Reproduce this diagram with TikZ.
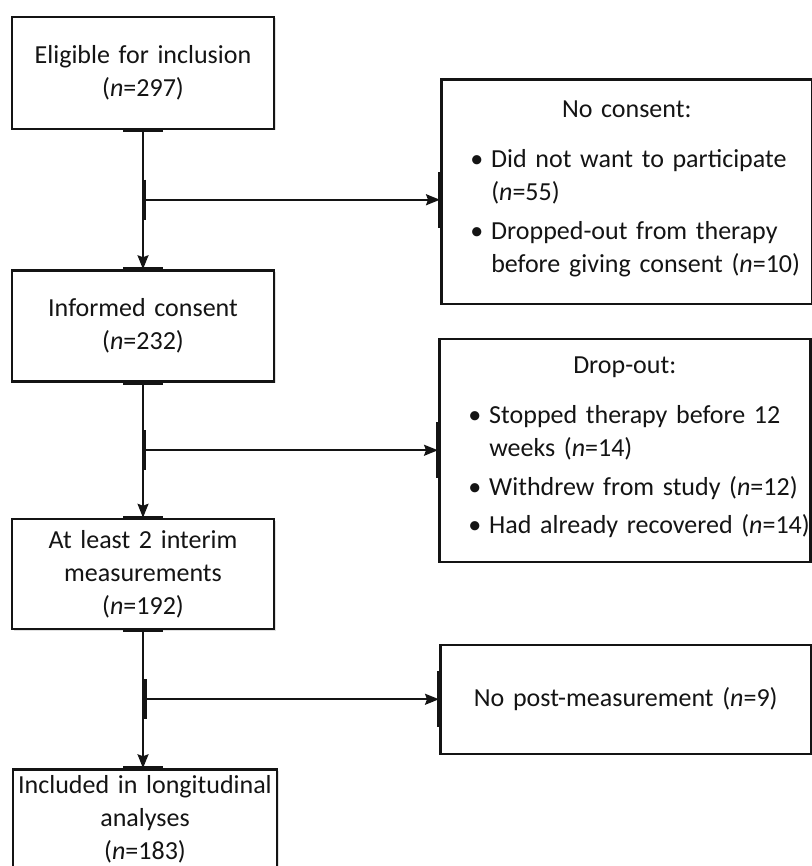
\documentclass[tikz,border=0pt]{standalone}
\usepackage{fontspec}
\setmainfont{Carlito}
\usetikzlibrary{arrows.meta,positioning,calc,shadows}
\definecolor{fcInk}{HTML}{141414}
\definecolor{fcShadow}{HTML}{9A9A9A}
\newcommand{\exclhead}[1]{{\centering #1\par}\vspace{12pt}}
\newcommand{\exclitem}[1]{\par\vspace{5pt}\noindent
  \makebox[22pt][l]{\hspace{1pt}\textbullet}\begin{tabular}[t]{@{}l@{}}#1\end{tabular}\par}
\tikzset{
  stagebox/.style={rectangle,draw=fcInk,line width=2.5pt,fill=white,
    minimum width=262pt,text width=250pt,inner xsep=4pt,
    align=center,font=\fontsize{26}{33}\selectfont,text=fcInk,
    drop shadow={shadow xshift=1.5pt,shadow yshift=-1.5pt,
      opacity=0.3,fill=fcShadow}},
  exclbox/.style={rectangle,draw=fcInk,line width=2.5pt,fill=white,
    minimum width=371pt,text width=315pt,inner xsep=28pt,
    align=left,font=\fontsize{26}{33}\selectfont,text=fcInk,
    drop shadow={shadow xshift=1.5pt,shadow yshift=-1.5pt,
      opacity=0.3,fill=fcShadow}},
  arr/.style={-{Stealth[length=14pt,width=11pt,inset=2pt]},
    line width=1.8pt,color=fcInk},
  glue/.style={line width=3.8pt,color=fcInk},
}

\begin{document}
\begin{tikzpicture}[x=1pt,y=1pt]
  \useasboundingbox (0,0) rectangle (811,-866);

  % main stream
  \node[stagebox,minimum height=112pt] (elig) at (143,-73)
    {Eligible for inclusion\\(\textit{n}=297)};
  \node[stagebox,minimum height=111pt,below=139pt of elig] (cons)
    {Informed consent\\(\textit{n}=232)};
  \node[stagebox,minimum height=110pt,below=135pt of cons] (interim)
    {At least 2 interim\\measurements\\(\textit{n}=192)};
  \node[stagebox,minimum height=100pt,minimum width=264pt,
    text width=260pt,inner xsep=2pt,inner ysep=2pt,
    below=138pt of interim,xshift=2pt] (incl)
    {Included in longitudinal\\analyses\\(\textit{n}=183)};

  \coordinate (br1) at ($(elig.south)!0.5!(cons.north)$);
  \coordinate (br2) at ($(cons.south)!0.5!(interim.north)$);
  \coordinate (br3) at ($(interim.south)!0.5!(incl.north)$);

  % exclusions
  \node[exclbox,minimum height=224pt,right=297pt of br1,yshift=8pt] (nocons)
    {\exclhead{No consent:}
     \exclitem{Did not want to participate\\(\textit{n}=55)}
     \exclitem{Dropped-out from therapy\\before giving consent (\textit{n}=10)}};
  \node[exclbox,minimum height=223pt,right=295pt of br2] (dropout)
    {\exclhead{Drop-out:}
     \exclitem{Stopped therapy before 12\\weeks (\textit{n}=14)}
     \exclitem{Withdrew from study (\textit{n}=12)}
     \exclitem{Had already recovered (\textit{n}=14)}};
  \node[exclbox,align=center,minimum height=109pt,right=295pt of br3] (nopost)
    {No post-measurement (\textit{n}=9)};

  \draw[arr] (elig) -- (cons);
  \draw[arr] (cons) -- (interim);
  \draw[arr] (interim) -- ([xshift=-2pt]incl.north);
  \draw[arr] (br1) -- (br1 -| nocons.west);
  \draw[arr] (br2) -- (br2 -| dropout.west);
  \draw[arr] (br3) -- (br3 -| nopost.west);

  % connection marks
  \foreach \n in {elig,cons,interim}
    \draw[glue] ([xshift=-20pt]\n.south) -- ([xshift=20pt]\n.south);
  \foreach \n in {cons,interim}
    \draw[glue] ([xshift=-20pt]\n.north) -- ([xshift=20pt]\n.north);
  \draw[glue] ([xshift=-22pt]incl.north) -- ([xshift=18pt]incl.north);
  \foreach \b in {br1,br2,br3}
    \draw[glue] ([xshift=1.5pt,yshift=20pt]\b) -- ([xshift=1.5pt,yshift=-20pt]\b);
  \draw[glue] ([yshift=28pt]br1 -| nocons.west) -- ([yshift=-28pt]br1 -| nocons.west);
  \draw[glue] ([yshift=28pt]br2 -| dropout.west) -- ([yshift=-28pt]br2 -| dropout.west);
  \draw[glue] ([yshift=28pt]br3 -| nopost.west) -- ([yshift=-28pt]br3 -| nopost.west);
\end{tikzpicture}
\end{document}
